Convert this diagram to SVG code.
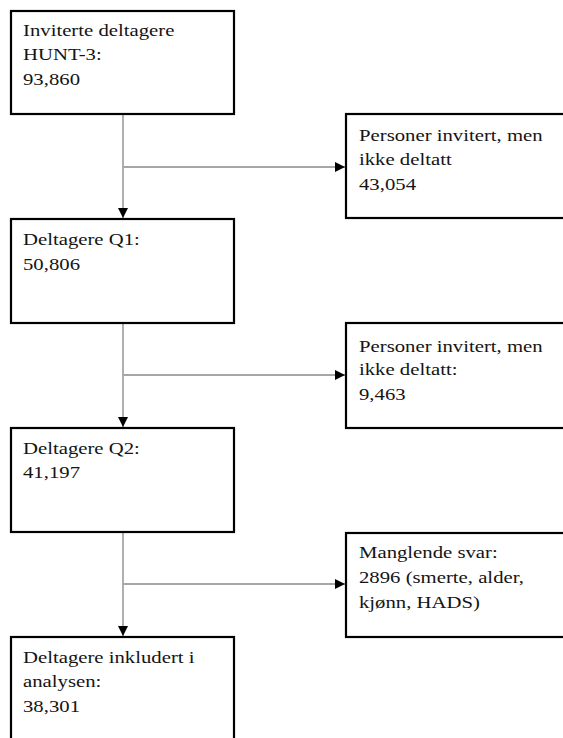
<svg xmlns="http://www.w3.org/2000/svg" width="563" height="738" viewBox="0 0 563 738">
  <style>
    .box { fill: #ffffff; stroke: #000000; stroke-width: 2.2; }
    .conn { fill: none; stroke: #a6a6a6; stroke-width: 1.8; }
    .t { font-family: "Liberation Serif", "Times New Roman", serif; font-size: 17px; fill: #141414; }
  </style>
  <defs>
    <marker id="arrow" viewBox="0 0 10 10" refX="10" refY="5" markerWidth="10" markerHeight="11" markerUnits="userSpaceOnUse" orient="auto">
      <path d="M0,0 L10,5 L0,10 Z" fill="#000000"/>
    </marker>
  </defs>
  <rect width="563" height="738" fill="#ffffff"/>

  <g id="connectors">
    <line class="conn" x1="123" y1="115" x2="123" y2="218" marker-end="url(#arrow)"/>
    <line class="conn" x1="123" y1="167" x2="345" y2="167" marker-end="url(#arrow)"/>
    <line class="conn" x1="123" y1="324" x2="123" y2="427" marker-end="url(#arrow)"/>
    <line class="conn" x1="123" y1="375" x2="345" y2="375" marker-end="url(#arrow)"/>
    <line class="conn" x1="123" y1="533" x2="123" y2="636" marker-end="url(#arrow)"/>
    <line class="conn" x1="123" y1="584" x2="345" y2="584" marker-end="url(#arrow)"/>
  </g>

  <g id="invited">
    <rect class="box" x="11" y="11" width="223" height="103"/>
    <text class="t" transform="translate(23,36) scale(1.22,1)">Inviterte deltagere</text>
    <text class="t" transform="translate(23,60) scale(1.22,1)">HUNT-3:</text>
    <text class="t" transform="translate(23,85) scale(1.22,1)">93,860</text>
  </g>

  <g id="notparticipated1">
    <rect class="box" x="346" y="114" width="230" height="104"/>
    <text class="t" transform="translate(359,141) scale(1.22,1)">Personer invitert, men</text>
    <text class="t" transform="translate(359,165) scale(1.22,1)">ikke deltatt</text>
    <text class="t" transform="translate(359,190) scale(1.22,1)">43,054</text>
  </g>

  <g id="q1">
    <rect class="box" x="11" y="219" width="223" height="104"/>
    <text class="t" transform="translate(23,245) scale(1.22,1)">Deltagere Q1:</text>
    <text class="t" transform="translate(23,270) scale(1.22,1)">50,806</text>
  </g>

  <g id="notparticipated2">
    <rect class="box" x="346" y="323" width="230" height="105"/>
    <text class="t" transform="translate(359,352) scale(1.22,1)">Personer invitert, men</text>
    <text class="t" transform="translate(359,375) scale(1.22,1)">ikke deltatt:</text>
    <text class="t" transform="translate(359,400) scale(1.22,1)">9,463</text>
  </g>

  <g id="q2">
    <rect class="box" x="11" y="428" width="223" height="104"/>
    <text class="t" transform="translate(23,454) scale(1.22,1)">Deltagere Q2:</text>
    <text class="t" transform="translate(23,478) scale(1.22,1)">41,197</text>
  </g>

  <g id="missing">
    <rect class="box" x="346" y="533" width="230" height="104"/>
    <text class="t" transform="translate(359,558) scale(1.22,1)">Manglende svar:</text>
    <text class="t" transform="translate(359,583) scale(1.22,1)">2896 (smerte, alder,</text>
    <text class="t" transform="translate(359,608) scale(1.22,1)">kjønn, HADS)</text>
  </g>

  <g id="included">
    <rect class="box" x="11" y="637" width="223" height="120"/>
    <text class="t" transform="translate(23,663) scale(1.22,1)">Deltagere inkludert i</text>
    <text class="t" transform="translate(23,687) scale(1.22,1)">analysen:</text>
    <text class="t" transform="translate(23,712) scale(1.22,1)">38,301</text>
  </g>
</svg>
